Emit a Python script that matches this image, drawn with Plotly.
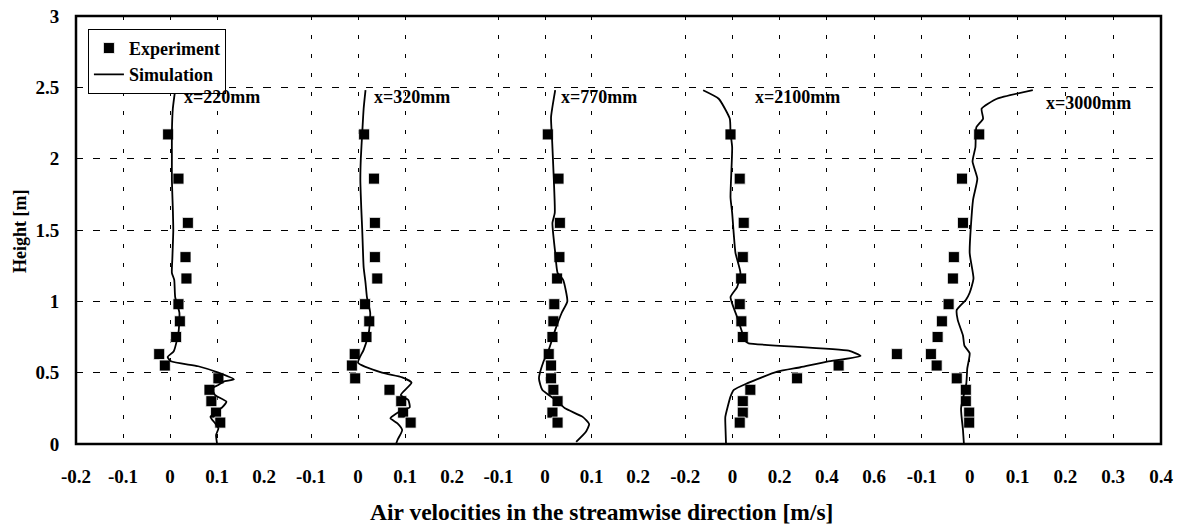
import plotly.graph_objects as go

# ---------------- data ----------------
panel_labels = ["x=220mm", "x=320mm", "x=770mm", "x=2100mm", "x=3000mm"]

exp_height = [2.17, 1.86, 1.55, 1.31, 1.16, 0.98, 0.86, 0.75, 0.63, 0.55, 0.46, 0.38, 0.30, 0.22, 0.15]

exp_u_220 = [-0.004, 0.018, 0.038, 0.033, 0.035, 0.018, 0.021, 0.013, -0.023, -0.011, 0.103, 0.084, 0.088, 0.098, 0.107]
exp_u_320 = [0.013, 0.034, 0.036, 0.036, 0.041, 0.015, 0.024, 0.018, -0.007, -0.013, -0.006, 0.067, 0.092, 0.096, 0.112]
exp_u_770 = [0.006, 0.029, 0.032, 0.031, 0.026, 0.020, 0.018, 0.016, 0.008, 0.013, 0.013, 0.018, 0.027, 0.016, 0.027]
exp_u_2100 = [-0.008, 0.031, 0.048, 0.044, 0.037, 0.031, 0.038, 0.044, 0.697, 0.45, 0.274, 0.076, 0.044, 0.044, 0.031]
exp_u_3000 = [0.020, -0.016, -0.014, -0.033, -0.035, -0.044, -0.058, -0.067, -0.081, -0.069, -0.027, -0.008, -0.008, -0.001, -0.001]

sim_h_220 = [2.48, 2.35, 2.18, 2.0, 1.85, 1.65, 1.50, 1.30, 1.20, 1.15, 1.03, 0.92, 0.78, 0.65, 0.61, 0.58, 0.545,
             0.50, 0.453, 0.437, 0.414, 0.39, 0.343, 0.297, 0.257, 0.191, 0.145, 0.11, 0.063, 0.005]
sim_u_220 = [0.011, 0.006, 0.004, 0.004, 0.004, 0.006, 0.007, 0.005, 0.004, 0.009, 0.011, 0.020, 0.018, 0.008, -0.005, 0.002, 0.06,
             0.103, 0.136, 0.114, 0.103, 0.089, 0.096, 0.12, 0.111, 0.086, 0.096, 0.103, 0.098, 0.1]

sim_h_320 = [2.48, 2.35, 2.18, 2.0, 1.85, 1.65, 1.50, 1.24, 1.13, 1.03, 0.92, 0.78, 0.66, 0.57, 0.50, 0.467, 0.43,
             0.343, 0.308, 0.257, 0.238, 0.18, 0.145, 0.098, 0.028, 0.0]
sim_u_320 = [0.016, 0.012, 0.009, 0.006, 0.005, 0.007, 0.009, 0.012, 0.016, 0.019, 0.026, 0.023, 0.012, 0.0, 0.051, 0.094, 0.114,
             0.091, 0.107, 0.11, 0.094, 0.069, 0.084, 0.094, 0.084, 0.081]

sim_h_770 = [2.48, 2.29, 2.15, 1.85, 1.62, 1.55, 1.34, 1.20, 1.15, 1.0, 0.92, 0.80, 0.66, 0.58, 0.46, 0.38, 0.31,
             0.25, 0.19, 0.14, 0.086, 0.015]
sim_u_770 = [0.022, 0.013, 0.015, 0.019, 0.021, 0.016, 0.022, 0.027, 0.039, 0.048, 0.036, 0.022, 0.008, -0.003, -0.013, -0.006, 0.022,
             0.043, 0.081, 0.095, 0.088, 0.067]

sim_h_2100 = [2.48, 2.42, 2.28, 2.18, 2.08, 1.73, 1.62, 1.34, 1.20, 1.10, 1.03, 0.89, 0.82, 0.72, 0.706, 0.654, 0.617,
              0.577, 0.538, 0.507, 0.425, 0.379, 0.332, 0.19, 0.145, 0.0]
sim_u_2100 = [-0.124, -0.058, -0.011, -0.008, -0.001, -0.008, -0.001, 0.013, 0.034, 0.020, -0.008, 0.020, 0.034, 0.055, 0.069, 0.493, 0.543,
              0.401, 0.288, 0.19, 0.062, 0.006, -0.008, -0.03, -0.03, -0.027]

sim_h_3000 = [2.48, 2.42, 2.35, 2.28, 2.22, 2.08, 1.98, 1.86, 1.71, 1.34, 1.16, 1.06, 1.01, 0.94, 0.87, 0.76, 0.69,
              0.636, 0.53, 0.425, 0.25, 0.098, 0.0]
sim_u_3000 = [0.132, 0.057, 0.025, 0.028, 0.014, 0.012, 0.006, 0.016, 0.007, 0.0, 0.008, 0.0, -0.008, -0.027, -0.025, -0.014, -0.011,
              0.0, -0.005, -0.007, -0.018, -0.014, -0.012]

exp_u = [exp_u_220, exp_u_320, exp_u_770, exp_u_2100, exp_u_3000]
sim_h = [sim_h_220, sim_h_320, sim_h_770, sim_h_2100, sim_h_3000]
sim_u = [sim_u_220, sim_u_320, sim_u_770, sim_u_2100, sim_u_3000]

# panel 4 range extends past 0.6 so the 0.7 measurement stays visible
panel_ranges = [[-0.2, 0.2], [-0.2, 0.2], [-0.2, 0.2], [-0.4, 0.8], [-0.2, 0.4]]
panel_tickvals = [
    [-0.2, -0.1, 0, 0.1, 0.2],
    [-0.2, -0.1, 0, 0.1, 0.2],
    [-0.2, -0.1, 0, 0.1, 0.2],
    [-0.4, -0.2, 0, 0.2, 0.4, 0.6],
    [-0.2, -0.1, 0, 0.1, 0.2, 0.3, 0.4],
]
panel_ticktext = [
    ["-0.2", "-0.1", "0", "0.1", "0.2"],
    ["", "-0.1", "0", "0.1", "0.2"],
    ["", "-0.1", "0", "0.1", "0.2"],
    ["", "-0.2", "0", "0.2", "0.4", "0.6"],
    ["", "-0.1", "0", "0.1", "0.2", "0.3", "0.4"],
]
y_ticks = [0, 0.5, 1, 1.5, 2, 2.5, 3]
y_ticktext = ["0", "0.5", "1", "1.5", "2", "2.5", "3"]

# ---------------- layout helpers ----------------
W, H = 1177, 524
L, R, T, B = 76, 16, 16, 80
plot_w = W - L - R
plot_h = H - T - B
bounds_px = [(76, 264), (264, 452), (452, 638), (638, 921.2), (874, 1161)]
domains = [[(a - L) / plot_w, (b - L) / plot_w] for a, b in bounds_px]
label_pos = [(0.0255, 2.43), (0.030, 2.43), (0.030, 2.43), (0.087, 2.43), (0.155, 2.39)]

FONT = "Liberation Serif, Times New Roman, serif"

fig = go.Figure()

for i in range(5):
    xa = "x%d" % (i + 2)
    fig.add_trace(go.Scatter(
        x=exp_u[i], y=exp_height, xaxis=xa, yaxis="y", mode="markers",
        marker=dict(symbol="square", size=11, color="black", line=dict(color="white", width=0.8)),
        name="Experiment", showlegend=(i == 0), legendrank=1,
    ))
    fig.add_trace(go.Scatter(
        x=sim_u[i], y=sim_h[i], xaxis=xa, yaxis="y", mode="lines",
        line=dict(color="black", width=1.8, shape="spline", smoothing=0.5),
        name="Simulation", showlegend=(i == 0), legendrank=2,
    ))

layout = dict(
    width=W, height=H,
    margin=dict(l=L, r=R, t=T, b=B, pad=0, autoexpand=False),
    paper_bgcolor="white", plot_bgcolor="rgba(0,0,0,0)",
    font=dict(family=FONT, size=18, color="black"),
    yaxis=dict(anchor="x2", range=[0, 3], tickvals=y_ticks, ticktext=y_ticktext,
               showgrid=True, gridcolor="black", gridwidth=1, griddash="7px,10px",
               zeroline=False, showline=False, automargin=False,
               ticks="outside", ticklen=12, tickcolor="rgba(0,0,0,0)",
               tickfont=dict(family=FONT, size=19, color="black", weight="bold"),
               fixedrange=True),
    showlegend=True,
    legend=dict(x=0.011, y=0.97, xanchor="left", yanchor="top",
                bgcolor="white", bordercolor="black", borderwidth=1,
                font=dict(family=FONT, size=18, color="black", weight="bold"),
                itemwidth=30, tracegroupgap=0),
    shapes=[dict(type="rect", xref="paper", yref="paper", x0=0, x1=1, y0=0, y1=1,
                 line=dict(color="black", width=2.5), fillcolor="rgba(0,0,0,0)", layer="above")],
)
for i in range(5):
    layout["xaxis%d" % (i + 2)] = dict(
        domain=domains[i], anchor="y", range=panel_ranges[i],
        tickvals=panel_tickvals[i], ticktext=panel_ticktext[i],
        showgrid=True, gridcolor="black", gridwidth=1, griddash="4px,15px",
        zeroline=False, showline=False, automargin=False,
        ticks="outside", ticklen=15, tickcolor="rgba(0,0,0,0)",
        tickfont=dict(family=FONT, size=19, color="black", weight="bold"),
        fixedrange=True,
    )
fig.update_layout(**layout)

annotations = []
for i in range(5):
    annotations.append(dict(
        x=label_pos[i][0], y=label_pos[i][1], xref="x%d" % (i + 2), yref="y",
        text="<b>%s</b>" % panel_labels[i], showarrow=False, xanchor="left", yanchor="middle",
        font=dict(family=FONT, size=18, color="black"), bgcolor="rgba(0,0,0,0)",
    ))
annotations.append(dict(
    x=(601 - L) / plot_w, y=(444 - 512) / plot_h, xref="paper", yref="paper",
    text="<b>Air velocities in the streamwise direction [m/s]</b>", showarrow=False,
    xanchor="center", yanchor="middle", font=dict(family=FONT, size=23.5, color="black"),
))
annotations.append(dict(
    x=(20 - L) / plot_w, y=(444 - 232) / plot_h, xref="paper", yref="paper", textangle=-90,
    text="<b>Height [m]</b>", showarrow=False, xanchor="center", yanchor="middle",
    font=dict(family=FONT, size=18, color="black"),
))
fig.update_layout(annotations=annotations)

fig.write_html("out.html", config={"displayModeBar": False},
               post_script="document.body.style.margin='0';")
